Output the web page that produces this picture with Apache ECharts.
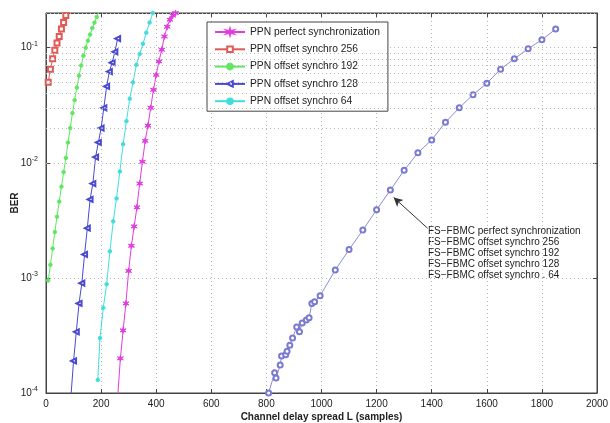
<!DOCTYPE html>
<html>
<head>
<meta charset="utf-8">
<script src="https://cdn.jsdelivr.net/npm/echarts@6/dist/echarts.min.js"></script>
<style>
  html, body { margin: 0; padding: 0; background: #fff; }
  #chart { width: 610px; height: 423px; }
</style>
</head>
<body>
<div id="chart"></div>
<script>
// BER versus channel delay spread L (samples)

const xTicks = [0, 200, 400, 600, 800, 1000, 1200, 1400, 1600, 1800, 2000];
const yDecades = [1e-4, 1e-3, 1e-2, 1e-1];

// PPN perfect synchronization
const ppnPerfectL   = [260, 270, 280, 290, 300, 310, 320, 330, 340, 350, 360, 370, 380, 390, 400, 410, 420, 430, 440, 450, 460, 470, 480];
const ppnPerfectBer = [9e-5, 2.0e-4, 3.5e-4, 6.0e-4, 1.15e-3, 1.9e-3, 2.8e-3, 4.1e-3, 6.6e-3, 1.02e-2, 1.55e-2, 2.1e-2, 3.0e-2, 4.3e-2, 5.8e-2, 7.6e-2, 9.6e-2, 0.125, 0.152, 0.175, 0.19, 0.2, 0.21];

// PPN offset synchro 256
const ppn256L   = [8, 16, 24, 32, 40, 48, 56, 64, 72];
const ppn256Ber = [0.05, 0.065, 0.08, 0.095, 0.11, 0.125, 0.145, 0.165, 0.19];

// PPN offset synchro 192
const ppn192L   = [8, 16, 24, 32, 40, 48, 56, 64, 72, 80, 88, 96, 104, 112, 120, 128, 136, 144, 152, 160, 168, 176, 184, 192];
const ppn192Ber = [9.5e-4, 1.3e-3, 1.8e-3, 2.5e-3, 3.4e-3, 4.6e-3, 6.2e-3, 8.3e-3, 1.1e-2, 1.5e-2, 2.0e-2, 2.7e-2, 3.5e-2, 4.5e-2, 5.7e-2, 7.0e-2, 8.5e-2, 0.1, 0.115, 0.13, 0.148, 0.165, 0.185, 0.205];

// PPN offset synchro 128
const ppn128L   = [90, 100, 110, 120, 130, 140, 150, 160, 170, 180, 190, 200, 210, 220, 230, 240, 250, 260];
const ppn128Ber = [9e-5, 1.9e-4, 3.4e-4, 6.0e-4, 9.0e-4, 1.6e-3, 2.7e-3, 4.8e-3, 6.6e-3, 1.12e-2, 1.5e-2, 2.0e-2, 3.0e-2, 4.6e-2, 6.2e-2, 7.4e-2, 9.2e-2, 0.12];

// PPN offset synchro 64
const ppn64L   = [188, 196, 208, 220, 232, 244, 256, 268, 280, 292, 304, 316, 328, 340, 352, 364, 376, 388];
const ppn64Ber = [1.3e-4, 3.0e-4, 5.5e-4, 8.8e-4, 1.7e-3, 3.1e-3, 4.9e-3, 8.4e-3, 0.0145, 0.023, 0.036, 0.050, 0.071, 0.088, 0.108, 0.135, 0.165, 0.2];

// FS-FBMC (all synchronization offsets give the same curve)
const fsfbmcL   = [808, 830, 835, 850, 855, 870, 875, 885, 895, 910, 920, 930, 945, 955, 965, 975, 995, 1050, 1100, 1150, 1200, 1250, 1300, 1350, 1400, 1450, 1500, 1550, 1600, 1650, 1700, 1750, 1800, 1850];
const fsfbmcBer = [1.0e-4, 1.5e-4, 1.35e-4, 1.75e-4, 2.1e-4, 2.15e-4, 2.3e-4, 2.6e-4, 3.0e-4, 3.75e-4, 3.4e-4, 4.05e-4, 4.3e-4, 4.5e-4, 6.0e-4, 6.2e-4, 7.0e-4, 1.17e-3, 1.76e-3, 2.6e-3, 3.9e-3, 5.8e-3, 8.6e-3, 0.0122, 0.0158, 0.0225, 0.030, 0.039, 0.049, 0.065, 0.080, 0.098, 0.117, 0.145];

const fsfbmcLabels = [
  'FS\u2212FBMC perfect synchronization',
  'FS\u2212FBMC offset synchro 256',
  'FS\u2212FBMC offset synchro 192',
  'FS\u2212FBMC offset synchro 128',
  'FS\u2212FBMC offset synchro . 64'
];

const zip = (xs, ys) => xs.map((x, i) => [x, ys[i]]);

// dotted minor grid lines at 2..9 within each decade
const minorLines = [];
yDecades.forEach(d => {
  for (let k = 2; k <= 9; k++) minorLines.push({ yAxis: d * k });
});

const FONT = '"Liberation Sans", Arial, Helvetica, sans-serif';
const starPath = 'path://M5,0L6,3.6L10,2.5L7,5L10,7.5L6,6.4L5,10L4,6.4L0,7.5L3,5L0,2.5L4,3.6Z';

const chart = echarts.init(document.getElementById('chart'), null, { renderer: 'canvas' });

const gridLine = { show: true, lineStyle: { color: '#b8b8b8', type: [1, 3], width: 1 } };

function yLabel(v) {
  const lg = Math.log10(v);
  const e = Math.round(lg);
  if (Math.abs(lg - e) > 1e-6) return '';
  return '{b|10}{s|' + e + '}';
}

function line(name, data, color, symbol, size, extra) {
  return Object.assign({
    name: name,
    type: 'line',
    data: data,
    symbol: symbol,
    symbolSize: size,
    showSymbol: true,
    clip: true,
    animation: false,
    lineStyle: { color: color, width: 1 },
    itemStyle: { color: color, borderColor: color, borderWidth: 1 },
    emphasis: { disabled: true },
    z: 3
  }, extra || {});
}

chart.setOption({
  animation: false,
  backgroundColor: '#ffffff',
  textStyle: { fontFamily: FONT },
  grid: {
    left: 46, right: 13, top: 13, bottom: 30,
    containLabel: false, outerBoundsMode: 'none',
    show: true, borderColor: '#444', borderWidth: 1, backgroundColor: 'transparent'
  },
  legend: {
    left: 207, top: 22,
    orient: 'vertical',
    data: ['PPN perfect synchronization', 'PPN offset synchro 256', 'PPN offset synchro 192', 'PPN offset synchro 128', 'PPN offset synchro 64'],
    itemWidth: 30, itemHeight: 7, itemGap: 7.3,
    padding: [5, 8, 5, 7],
    backgroundColor: '#ffffff',
    borderColor: '#444', borderWidth: 1, borderRadius: 0,
    textStyle: { fontSize: 10.3, color: '#222', fontFamily: FONT },
    selectedMode: false
  },
  xAxis: [{
    type: 'value', min: xTicks[0], max: xTicks[xTicks.length - 1], interval: 200,
    name: 'Channel delay spread L (samples)', nameLocation: 'middle', nameGap: 19, nameMoveOverlap: false,
    nameTextStyle: { fontSize: 10, fontWeight: 'bold', color: '#222', fontFamily: FONT },
    axisLine: { show: true, onZero: false, lineStyle: { color: '#444' } },
    axisTick: { show: true, inside: true, length: 4, lineStyle: { color: '#444' } },
    axisLabel: { fontSize: 10, color: '#222', margin: 6, fontFamily: FONT, formatter: v => String(v) },
    splitLine: gridLine
  }, {
    type: 'value', position: 'top', min: xTicks[0], max: xTicks[xTicks.length - 1], interval: 200,
    axisLine: { show: true, onZero: false, lineStyle: { color: '#444' } },
    axisTick: { show: true, inside: true, length: 4, lineStyle: { color: '#444' } },
    axisLabel: { show: false }, splitLine: { show: false }
  }],
  yAxis: [{
    type: 'log', logBase: 10, min: yDecades[0], max: 0.2,
    name: 'BER', nameLocation: 'middle', nameGap: 26, nameRotate: 90, nameMoveOverlap: false,
    nameTextStyle: { fontSize: 10, fontWeight: 'bold', color: '#222', fontFamily: FONT },
    axisLine: { show: true, onZero: false, lineStyle: { color: '#444' } },
    axisTick: { show: true, inside: true, length: 4, lineStyle: { color: '#444' } },
    axisLabel: {
      formatter: yLabel, margin: 8, color: '#222', fontFamily: FONT,
      rich: {
        b: { fontSize: 10, color: '#222', fontFamily: FONT },
        s: { fontSize: 7, color: '#222', fontFamily: FONT, verticalAlign: 'top', padding: [0, 0, 8, 0] }
      }
    },
    splitLine: gridLine
  }, {
    type: 'log', logBase: 10, min: yDecades[0], max: 0.2, position: 'right',
    axisLine: { show: true, onZero: false, lineStyle: { color: '#444' } },
    axisTick: { show: true, inside: true, length: 4, lineStyle: { color: '#444' } },
    axisLabel: { show: false }, splitLine: { show: false }
  }],
  graphic: [{
    type: 'text', left: 428, top: 226, silent: true,
    style: { text: fsfbmcLabels.join('\n'), font: '10px ' + FONT, fill: '#222', lineHeight: 11 }
  }],
  series: [
    line('PPN perfect synchronization', zip(ppnPerfectL, ppnPerfectBer), '#e03ce0', starPath, 6),
    line('PPN offset synchro 256', zip(ppn256L, ppn256Ber), '#e05a5a', 'emptyRect', 5),
    line('PPN offset synchro 192', zip(ppn192L, ppn192Ber), '#5fe85f', 'circle', 3.5),
    line('PPN offset synchro 128', zip(ppn128L, ppn128Ber), '#4a4ad0', 'emptyTriangle', 5, { symbolRotate: 90 }),
    line('PPN offset synchro 64', zip(ppn64L, ppn64Ber), '#3fdede', 'circle', 3.5),
    line('FS-FBMC', zip(fsfbmcL, fsfbmcBer), '#7a7ad0', 'emptyCircle', 5, {
      lineStyle: { color: '#8c8cd4', width: 1 },
      markLine: {
        silent: true, animation: false,
        symbol: ['none', 'arrow'], symbolSize: [7, 9],
        label: { show: false },
        lineStyle: { color: '#333', width: 1, type: 'solid' },
        data: [[{ coord: [1385, 2.7e-3] }, { coord: [1262, 5.0e-3] }]]
      }
    }),
    {
      name: 'minor grid', type: 'line', data: [], silent: true,
      markLine: {
        silent: true, animation: false, symbol: ['none', 'none'],
        label: { show: false },
        lineStyle: { color: '#b8b8b8', type: [1, 3], width: 1 },
        data: minorLines
      },
      z: 1
    }
  ]
});
</script>
</body>
</html>
